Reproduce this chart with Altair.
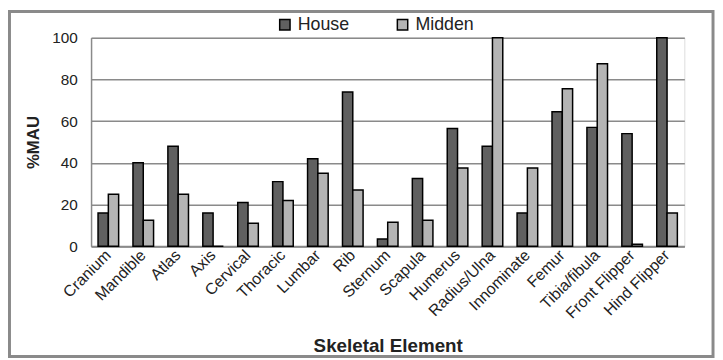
import altair as alt
import pandas as pd

categories = ["Cranium", "Mandible", "Atlas", "Axis", "Cervical", "Thoracic", "Lumbar",
              "Rib", "Sternum", "Scapula", "Humerus", "Radius/Ulna", "Innominate",
              "Femur", "Tibia/fibula", "Front Flipper", "Hind Flipper"]
house = [16, 40, 48, 16, 21, 31, 42, 74, 3.5, 32.5, 56.5, 48, 16, 64.5, 57, 54, 100]
midden = [25, 12.5, 25, 0, 11, 22, 35, 27, 11.5, 12.5, 37.5, 100, 37.5, 75.5, 87.5, 1, 16]
series = ["House", "Midden"]
colors = ["#606060", "#b4b4b4"]
y_ticks = [0, 20, 40, 60, 80, 100]

rows = []
for c, h, m in zip(categories, house, midden):
    rows.append({"Element": c, "Series": "House", "Value": h})
    rows.append({"Element": c, "Series": "Midden", "Value": m})
df = pd.DataFrame(rows)

FONT = "Liberation Sans"
W, H = 600, 211

bars = alt.Chart(df).mark_bar(stroke="black", strokeWidth=1.5).encode(
    x=alt.X("Element:N", sort=categories,
            scale=alt.Scale(paddingInner=0.41, paddingOuter=0.2),
            axis=alt.Axis(title="Skeletal Element", labelAngle=-45, labelAlign="right",
                          labelBaseline="middle", labelPadding=6, ticks=False,
                          labelFontSize=16, labelColor="#222222", labelFont=FONT,
                          domainColor="#8a8a8a", domainWidth=2,
                          titleFont=FONT, titleFontSize=19, titleFontWeight="bold",
                          titleColor="#222222", titleY=106, titleBaseline="alphabetic")),
    xOffset=alt.XOffset("Series:N", sort=series),
    y=alt.Y("Value:Q", scale=alt.Scale(domain=[0, 100]),
            axis=alt.Axis(title="%MAU", values=y_ticks, ticks=False, labelPadding=14,
                          labelFontSize=15.5, labelColor="#222222", labelFont=FONT,
                          domainColor="#8a8a8a", domainWidth=1.5,
                          gridColor="#8a8a8a", gridWidth=1.5,
                          titleFont=FONT, titleFontSize=17, titleFontWeight="bold",
                          titleColor="#222222", titleX=-58, titleY=105.5,
                          titleAngle=-90, titleBaseline="middle", titleAlign="center")),
    color=alt.Color("Series:N", scale=alt.Scale(domain=series, range=colors),
                    legend=alt.Legend(title=None, orient="none", direction="horizontal",
                                      legendX=187, legendY=-22,
                                      symbolType="square", symbolSize=110,
                                      symbolStrokeColor="black", symbolStrokeWidth=1.5,
                                      labelFont=FONT, labelFontSize=18, labelColor="#222222",
                                      labelOffset=4, columnPadding=44)),
)

frame = alt.Chart(pd.DataFrame({"a": [0]})).mark_rect(
    fill="transparent", stroke="#8a8a8a", strokeWidth=3
).encode(
    x=alt.value(-82.5), x2=alt.value(629), y=alt.value(-26.5), y2=alt.value(322.5)
)

chart = alt.layer(bars, frame).properties(
    width=W, height=H,
    autosize=alt.AutoSizeParams(type="none"),
    padding={"left": 84, "top": 28, "right": 31, "bottom": 113},
).configure_view(stroke=None).configure(background="white")

chart.save("out.html", embed_options={"renderer": "svg", "actions": False})
